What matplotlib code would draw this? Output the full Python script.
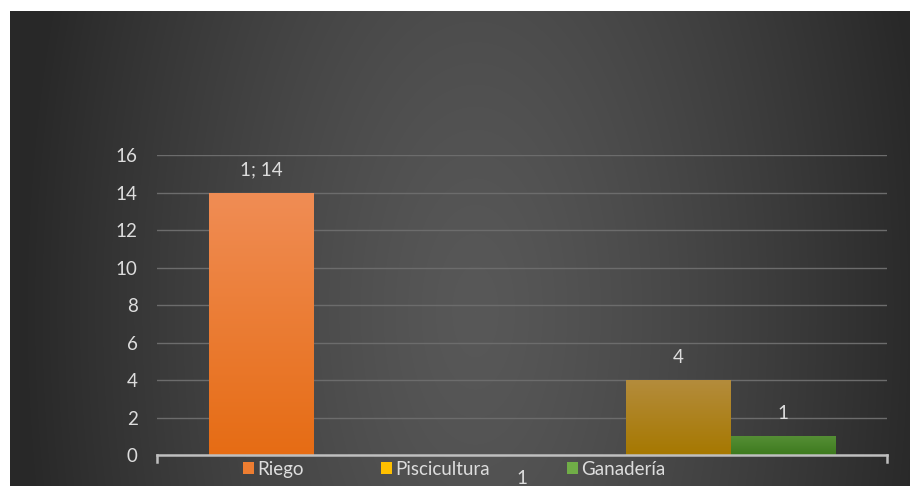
import numpy as np
import matplotlib.pyplot as plt
from matplotlib.colors import LinearSegmentedColormap
from matplotlib.patches import Patch

# data
category = "1"
series = ["Riego", "Piscicultura", "Ganadería"]
values = [14, 4, 1]
legend_colors = ["#ED7D31", "#FFC000", "#70AD47"]
# top / bottom shades used for each bar's fill
bar_shades = [("#F08D55", "#E66C14"), ("#B48C3C", "#A67800"), ("#558E35", "#3D7A1E")]
yticks = [0, 2, 4, 6, 8, 10, 12, 14, 16]

plt.rcParams['font.family'] = ['Lato', 'DejaVu Sans']
text_col = "#DDDDDD"
fs = 13.5

fig = plt.figure(figsize=(9.1, 4.86), dpi=100)
fig.patch.set_facecolor("white")

# dark radial background
bg = fig.add_axes([10 / 910, 0, 900 / 910, 475 / 486])
bg.set_axis_off()
W, H = 900, 475
xx, yy = np.meshgrid(np.arange(W), np.arange(H))
d = np.sqrt(((xx - 465) / 455.0) ** 2 + ((yy - 300) / 900.0) ** 2)
d = np.clip(d, 0, 1)
shade = (0x58 - (0x58 - 0x28) * d ** 1.3) / 255.0
bg.imshow(np.dstack([shade, shade, shade]), aspect="auto", interpolation="bilinear")

ax = fig.add_axes([157 / 910, (486 - 455) / 486, 730 / 910, 300 / 486])
ax.patch.set_alpha(0)

slots = {"Riego": 0, "Piscicultura": 4, "Ganadería": 5}
for name, v, (top, bot) in zip(series, values, bar_shades):
    x = slots[name] - 2.5
    bars = ax.bar(x, v, width=1.0, color=bot, zorder=3)
    cmap = LinearSegmentedColormap.from_list(name, [bot, top])
    grad = np.linspace(0, 1, 256).reshape(-1, 1)
    im = ax.imshow(grad, cmap=cmap, origin="lower", aspect="auto",
                   extent=(x - 0.5, x + 0.5, 0, v), zorder=3.5)
    im.set_clip_path(bars[0])
    label = f"{category}; {v}" if name == "Riego" else str(v)
    ax.annotate(label, (x, v), xytext=(0, 12.5), textcoords="offset points",
                ha="center", va="baseline", color=text_col, fontsize=fs)
ax.set_xlim(-3.5, 3.5)
ax.set_ylim(0, 16)

ax.set_yticks(yticks)
ax.set_yticklabels([str(t) for t in yticks], color=text_col, fontsize=fs)
ax.tick_params(axis="y", length=0, pad=14)
ax.grid(axis="y", color="#6C6C6C", linewidth=1.0, zorder=0)
ax.set_axisbelow(True)

ax.set_xticks([0])
ax.set_xticklabels([category], color=text_col, fontsize=fs)
ax.tick_params(axis="x", length=0, pad=11)

for side in ["top", "right", "left"]:
    ax.spines[side].set_visible(False)
ax.spines["bottom"].set_color("#BFBFBF")
ax.spines["bottom"].set_linewidth(1.8)
ax.spines["bottom"].set_zorder(5)
# end ticks on the category axis
ax.plot([-3.5, -3.5], [0, -0.35], color="#BFBFBF", lw=1.8, clip_on=False, zorder=5)
ax.plot([3.5, 3.5], [0, -0.35], color="#BFBFBF", lw=1.8, clip_on=False, zorder=5)

handles = [Patch(facecolor=c, edgecolor="none") for c in legend_colors]
leg = fig.legend(handles, series, loc="center", bbox_to_anchor=(454 / 910, 1 - 469 / 486),
                 ncol=3, frameon=False, fontsize=fs, handlelength=0.62, handleheight=0.62,
                 handletextpad=0.15, columnspacing=4.1, labelcolor=text_col,
                 borderaxespad=0, borderpad=0)

fig.savefig("out.png", dpi=100)
